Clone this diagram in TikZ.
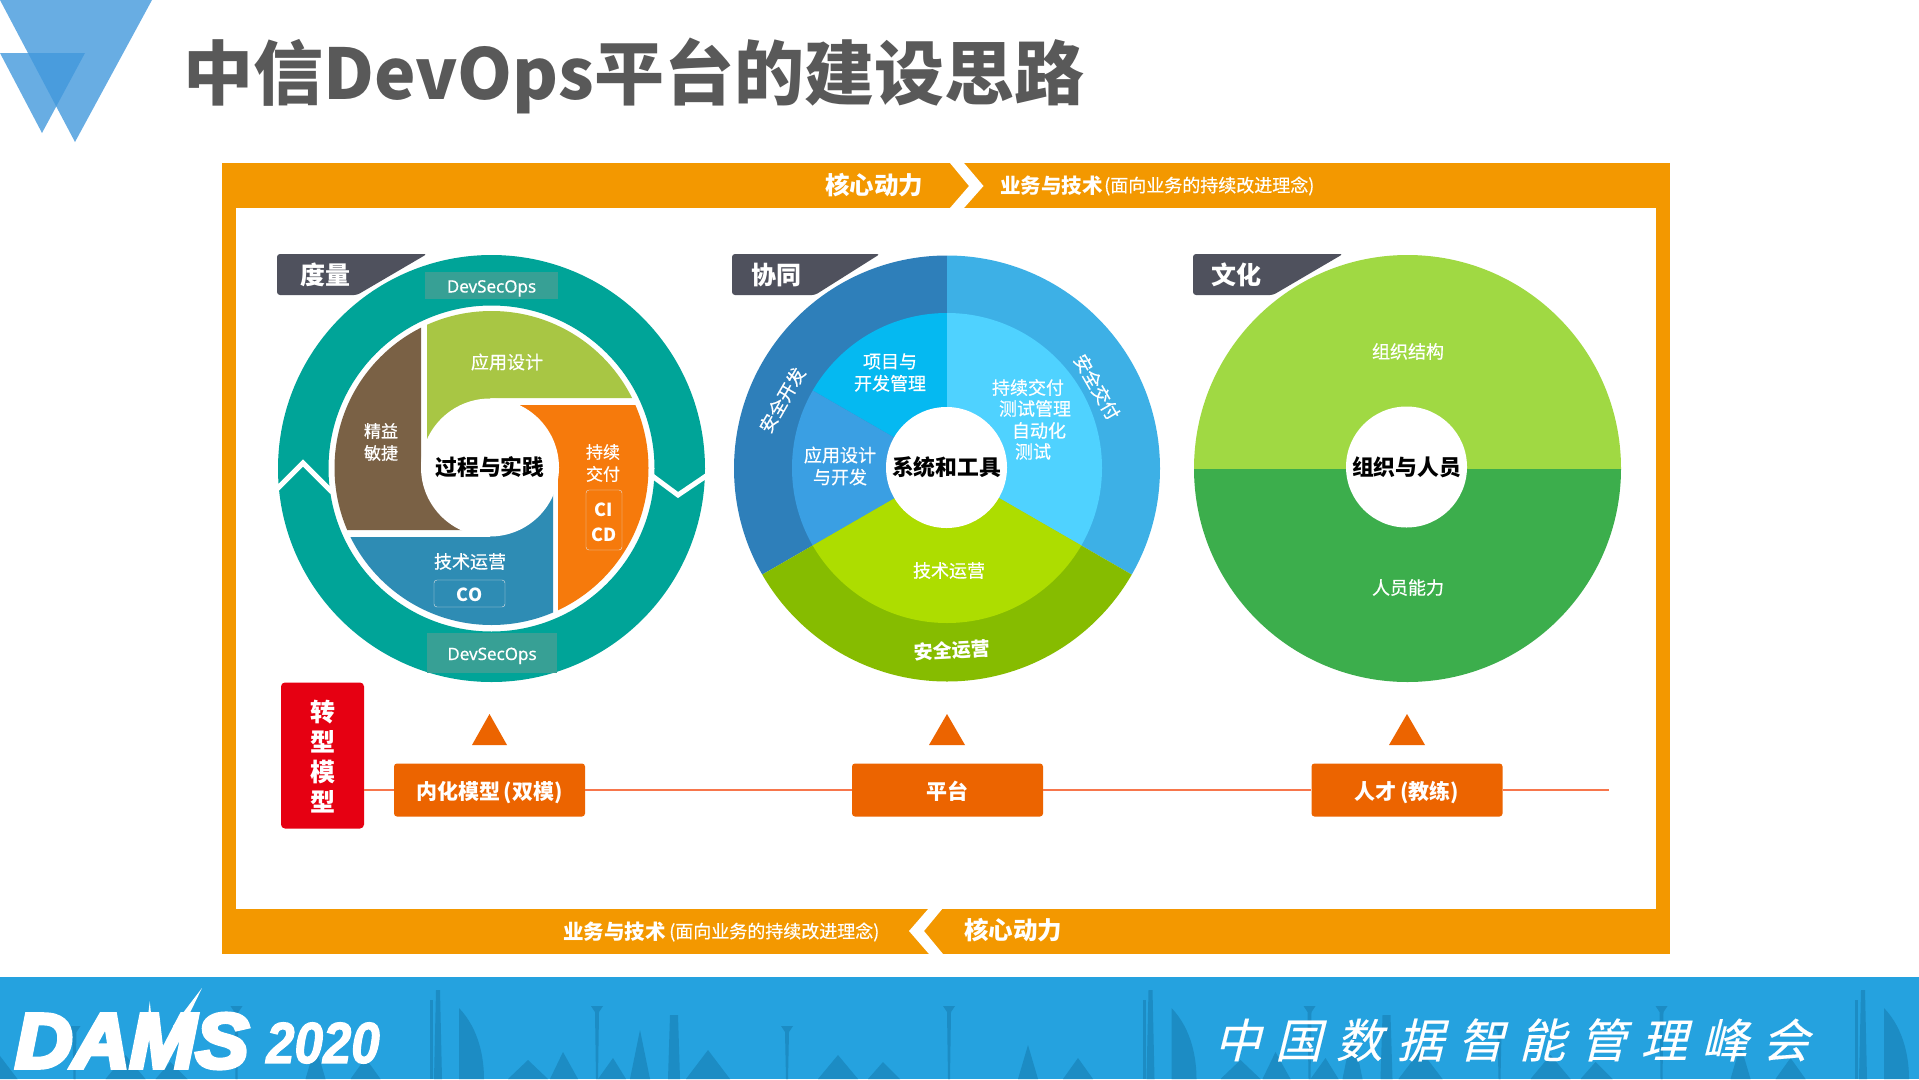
\documentclass[tikz,border=0pt]{standalone}
\usepackage{fontspec}
\setmainfont{Noto Sans CJK SC}
\newfontfamily\latinsans[FakeBold=0.4]{Noto Sans}
\newfontfamily\midfont[FakeBold=0.5]{Noto Sans CJK SC}
\newfontfamily\logoword[FakeBold=6,FakeStretch=1.03]{Liberation Sans Bold Italic}
\newfontfamily\logoyear[FakeBold=2,FakeStretch=0.88]{Liberation Sans Bold Italic}
\newfontfamily\summitfont[FakeSlant=0.25,LetterSpace=31,FakeBold=0.3]{Noto Sans CJK SC}
\definecolor{barorange}{HTML}{F39800}
\definecolor{boxorange}{HTML}{EC6400}
\definecolor{modelred}{HTML}{E60012}
\definecolor{tabgrey}{HTML}{4F515D}
\definecolor{ringteal}{HTML}{00A498}
\definecolor{opsteal}{HTML}{37A095}
\definecolor{footblue}{HTML}{25A2DF}
\definecolor{skyblue}{HTML}{1C8CC4}
\definecolor{logoblue}{HTML}{4298DC}
\definecolor{petalgreen}{HTML}{A8C644}
\definecolor{petalbrown}{HTML}{7A6145}
\definecolor{petalblue}{HTML}{2E8CB4}
\definecolor{petalorange}{HTML}{F67A0C}
\definecolor{outerdev}{HTML}{2E7FBA}
\definecolor{outerdeliver}{HTML}{3DB0E6}
\definecolor{outerops}{HTML}{86BC00}
\definecolor{innerproject}{HTML}{05B9F1}
\definecolor{innerapp}{HTML}{3A9FE3}
\definecolor{innerdeliver}{HTML}{4FD2FF}
\definecolor{innerops}{HTML}{ADDD00}
\definecolor{orgtop}{HTML}{A0D943}
\definecolor{orgbottom}{HTML}{3CAE4C}
\tikzset{
  whitetext/.style={text=white, inner sep=0pt, font=\fontsize{#1}{22}\selectfont\midfont},
  whitetext/.default=18,
  boldtext/.style={text=white, inner sep=0pt, font=\fontsize{#1}{22}\selectfont\bfseries},
  hubcircle/.style={
    circle,
    fill=white,
    inner sep=0pt,
    text=black,
    font=\fontsize{21.8}{24}\selectfont\bfseries},
  tablabel/.style={text=white, inner sep=0pt, font=\fontsize{25}{28}\selectfont\bfseries},
  opsbox/.style={
    rectangle,
    fill=opsteal,
    text=white,
    inner sep=0pt,
    text height=14pt,
    text depth=0pt,
    font=\fontsize{17}{20}\selectfont\latinsans},
  orangebox/.style={
    rectangle,
    rounded corners=3pt,
    fill=boxorange,
    text=white,
    minimum width=191pt,
    minimum height=53pt,
    inner sep=0pt,
    text height=19pt,
    text depth=0pt,
    font=\fontsize{21}{24}\selectfont\bfseries},
  modelbox/.style={
    rectangle,
    rounded corners=4pt,
    fill=modelred,
    text=white,
    minimum width=83pt,
    minimum height=146pt,
    inner sep=0pt,
    align=center,
    font=\fontsize{25}{30}\selectfont\bfseries},
  tagbox/.style={
    rectangle,
    rounded corners=3pt,
    draw=white!90!black,
    thin,
    text=white,
    inner sep=0pt,
    align=center,
    font=\fontsize{18}{25}\selectfont\bfseries},
  tie/.style={draw=boxorange!60!red!70!white, line width=2pt},
  zigzag/.style={draw=white, line width=5pt, line join=miter},
}
\newcommand{\skylinepart}[1]{%
  \begin{scope}[shift={(#1,0)}, fill=skyblue]
    \fill (-2,990) -- (2,990) -- (4,1079) -- (-4,1079) -- cycle;
    \fill (-8,1000) -- (-5,1000) -- (-5,1079) -- (-8,1079) -- cycle;
    \fill (21,1008) .. controls (42,1030) and (46,1060) .. (46,1079) -- (21,1079) -- cycle;
    \fill (153,1006) -- (165,1006) -- (161,1012) -- (160,1079) -- (158,1079) -- (157,1012) -- cycle;
    \fill (202,1030) -- (212,1079) -- (192,1079) -- cycle;
    \fill (232,1015) -- (240,1015) -- (242,1079) -- (230,1079) -- cycle;
    \fill (343,1026) -- (355,1026) -- (351,1032) -- (350,1079) -- (348,1079) -- (347,1032) -- cycle;
    \fill (505,1006) -- (517,1006) -- (513,1012) -- (512,1079) -- (510,1079) -- (509,1012) -- cycle;
    \fill (270,1050) -- (292,1079) -- (248,1079) -- cycle;
    \fill (90,1060) -- (110,1079) -- (70,1079) -- cycle;
    \fill (125,1052) -- (140,1079) -- (112,1079) -- cycle;
    \fill (175,1058) -- (188,1079) -- (160,1079) -- cycle;
    \fill (400,1055) -- (420,1079) -- (380,1079) -- cycle;
    \fill (445,1062) -- (462,1079) -- (430,1079) -- cycle;
    \fill (590,1045) -- (600,1079) -- (580,1079) -- cycle;
    \fill (640,1058) -- (655,1079) -- (625,1079) -- cycle;
  \end{scope}}
\begin{document}
\begin{tikzpicture}[x=1pt, y=-1pt]
  \useasboundingbox (0,0) rectangle (1919,1079);
  % corner logo and title
  \fill[logoblue, opacity=0.8] (0,0) -- (152,0) -- (75,142) -- cycle;
  \fill[logoblue, opacity=0.8] (0,53) -- (85,53) -- (42,133) -- cycle;
  \node[anchor=west, inner sep=0pt, text=black!65, font=\fontsize{70}{72}\selectfont\bfseries] (TitleText) at (183,75.5) {中信DevOps平台的建设思路};
  % orange frame
  \fill[barorange] (221.5,163) rectangle (1670,954);
  \fill[white] (236,208) rectangle (1656,908.5);
  \fill[white] (950,163) -- (964,163) -- (983.5,186) -- (964,208) -- (950,208) -- (969,186) -- cycle;
  \fill[white] (929,908) -- (943,908) -- (924,931) -- (943,954) -- (929,954) -- (909,931) -- cycle;
  \node[boldtext=24.5] (CoreTop) at (874,185) {核心动力};
  \node[boldtext=20.5, anchor=west] (BizTop) at (1000,186) {业务与技术};
  \node[whitetext, anchor=west] (ConceptTop) at (1104,186) {(面向业务的持续改进理念)};
  \node[boldtext=20.5, anchor=west] (BizBottom) at (563,932) {业务与技术};
  \node[whitetext, anchor=west] (ConceptBottom) at (669,932) {(面向业务的持续改进理念)};
  \node[boldtext=24.5] (CoreBottom) at (1013,930) {核心动力};
  % tabs behind the wheels
  \fill[tabgrey, rounded corners=3pt] (277,254) -- (427,254) -- (357,295) -- (277,295) -- cycle;
  \fill[tabgrey, rounded corners=3pt] (732,254) -- (880,254) -- (815,295) -- (732,295) -- cycle;
  \fill[tabgrey, rounded corners=3pt] (1193,254) -- (1343,254) -- (1273,295) -- (1193,295) -- cycle;
  \fill[white] (491.5,468.5) circle (217);
  \fill[white] (947,468.5) circle (216);
  \fill[white] (1407.5,468.5) circle (216);
  \node[tablabel] (TabMeasure) at (325,275) {度量};
  \node[tablabel] (TabTeam) at (776,275) {协同};
  \node[tablabel] (TabCulture) at (1236,275) {文化};
  % first wheel
  \fill[ringteal, even odd rule] (491.5,468.5) circle (213.5) (491.5,468.5) circle (163);
  \draw[zigzag] (274,492) -- (303,463) -- (332,492);
  \draw[zigzag] (651,475) -- (678,495) -- (709,474);
  \node[opsbox, minimum width=133pt, minimum height=27pt] (OpsTop) at (491.5,285.5) {DevSecOps};
  \node[opsbox, minimum width=130pt, minimum height=40pt] (OpsBottom) at (492,653) {DevSecOps};
  \begin{scope}
    \clip (491.5,468) circle (157);
    \fill[petalgreen] (427,300) -- (660,300) -- (660,398) -- (490,398) -- (490,468) -- (427,468) -- cycle;
    \fill[petalbrown] (421,300) -- (421,468) -- (490,468) -- (490,530) -- (320,530) -- (320,300) -- cycle;
    \fill[petalblue] (320,537) -- (490,537) -- (490,468) -- (553,468) -- (553,640) -- (320,640) -- cycle;
    \fill[petalorange] (660,405) -- (490,405) -- (490,468) -- (558,468) -- (558,640) -- (660,640) -- cycle;
  \end{scope}
  \node[hubcircle, minimum size=138pt] (HubPractice) at (490,467.5) {过程与实践};
  \node[whitetext] (AppDesign) at (507,362) {应用设计};
  \node[whitetext=17, align=center] (Lean) at (381,442) {精益\\敏捷};
  \node[whitetext=17, align=center] (Delivery) at (603,463) {持续\\交付};
  \node[whitetext] (TechOpsA) at (470,561.5) {技术运营};
  \node[tagbox, minimum width=71pt, minimum height=27pt] (CoTag) at (469.5,593.5) {\rule{0pt}{17pt}CO};
  \node[tagbox, minimum width=36pt, minimum height=60pt] (CiTag) at (604,520) {\rule{0pt}{19pt}CI\\CD};
  % second wheel
  \begin{scope}
    \clip (947,468.5) circle (213);
    \fill[outerdev] (947,468) -- (947,168) -- (687,168) -- (687,618) -- cycle;
    \fill[outerdeliver] (947,468) -- (947,168) -- (1207,168) -- (1207,618) -- cycle;
    \fill[outerops] (947,468) -- (1207,618) -- (1207,700) -- (687,700) -- (687,618) -- cycle;
  \end{scope}
  \begin{scope}
    \clip (947,468) circle (155);
    \fill[innerproject] (947,468) -- (947,168) -- (687,168) -- (687,318) -- cycle;
    \fill[innerapp] (947,468) -- (687,318) -- (687,618) -- cycle;
    \fill[innerdeliver] (947,468) -- (947,168) -- (1207,168) -- (1207,618) -- cycle;
    \fill[innerops] (947,468) -- (1207,618) -- (1207,700) -- (687,700) -- (687,618) -- cycle;
  \end{scope}
  \node[hubcircle, minimum size=121pt] (HubTools) at (946.5,467.5) {系统和工具};
  \node[whitetext, rotate=60] (SafeDev) at (782,400) {安全开发};
  \node[whitetext, rotate=-60] (SafeDelivery) at (1097,387) {安全交付};
  \node[whitetext, align=center] (ProjectMgmt) at (890,372.5) {项目与\\开发管理};
  \node[whitetext, align=center] (AppDev) at (840,466) {应用设计\\与开发};
  \node[whitetext] (LineOne) at (1028,387.5) {持续交付};
  \node[whitetext] (LineTwo) at (1035,408.5) {测试管理};
  \node[whitetext] (LineThree) at (1039,430.5) {自动化};
  \node[whitetext] (LineFour) at (1033,451.5) {测试};
  \node[whitetext] (TechOpsB) at (949,570.5) {技术运营};
  \node[boldtext=19, rotate=3] (SafeOps) at (952,650.5) {安全运营};
  % third wheel
  \begin{scope}
    \clip (1407.5,468.5) circle (213.5);
    \fill[orgtop] (1190,250) rectangle (1625,468.5);
    \fill[orgbottom] (1190,468.5) rectangle (1625,690);
  \end{scope}
  \node[hubcircle, minimum size=121pt] (HubPeople) at (1406.5,467) {组织与人员};
  \node[whitetext] (OrgChart) at (1408,351.5) {组织结构};
  \node[whitetext] (Skills) at (1408,587.5) {人员能力};
  % bottom row
  \node[modelbox] (RedModel) at (322.5,755.5) {\rule{0pt}{24pt}转\\型\\模\\型};
  \node[orangebox] (ModelBox) at (489.5,790) {内化模型\,(双模)};
  \node[orangebox] (PlatformBox) at (947.5,790) {平台};
  \node[orangebox] (TalentBox) at (1407,790) {人才\,(教练)};
  \coordinate (LineEnd) at (1609,790);
  \draw[tie] (RedModel.east |- ModelBox) -- (ModelBox);
  \draw[tie] (ModelBox) -- (PlatformBox);
  \draw[tie] (PlatformBox) -- (TalentBox);
  \draw[tie] (TalentBox) -- (LineEnd);
  \fill[boxorange] (489.5,714) -- (507,745) -- (472,745) -- cycle;
  \fill[boxorange] (947,714) -- (965,745) -- (929,745) -- cycle;
  \fill[boxorange] (1407,714) -- (1425,745) -- (1389,745) -- cycle;
  % footer band
  \fill[footblue] (0,977) rectangle (1919,1079);
  \begin{scope}
    \clip (0,977) rectangle (1919,1079);
    \foreach \sx in {-274.5,438,1150.5,1863} {
      \skylinepart{\sx}
    }
  \end{scope}
  \node[anchor=west, inner sep=0pt, text=white, font=\fontsize{77}{80}\selectfont\logoword] (LogoWord) at (15,1041) {DAMS};
  \fill[white] (202,988) -- (173,1026) -- (182,1024) -- (180,1045) -- (192,1020) -- (186,1021) -- cycle;
  \node[anchor=west, inner sep=0pt, text=white, font=\fontsize{58}{60}\selectfont\logoyear] (LogoYear) at (266,1043) {2020};
  \node[anchor=west, inner sep=0pt, text=white, font=\fontsize{46.5}{50}\selectfont\summitfont] (SummitName) at (1214,1040) {中国数据智能管理峰会};
\end{tikzpicture}
\end{document}
